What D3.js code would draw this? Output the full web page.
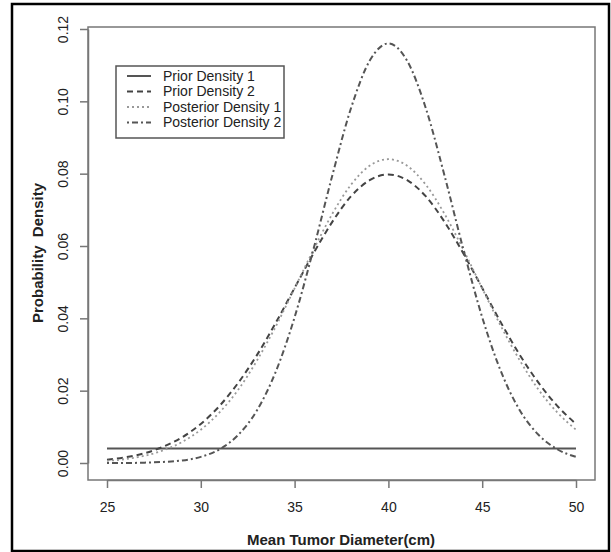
<!DOCTYPE html>
<html>
<head>
<script src="https://cdnjs.cloudflare.com/ajax/libs/d3/7.8.5/d3.min.js"></script>
<style>
  body { margin: 0; background: #fff; }
  text { font-family: "Liberation Sans", Arial, sans-serif; }
</style>
</head>
<body>
<script>
// values
var diameter = [25,26,27,28,29,30,31,32,33,34,35,36,37,38,39,40,41,42,43,44,45,46,47,48,49,50];
var prior1 = [0.004,0.004,0.004,0.004,0.004,0.004,0.004,0.004,0.004,0.004,0.004,0.004,0.004,
              0.004,0.004,0.004,0.004,0.004,0.004,0.004,0.004,0.004,0.004,0.004,0.004,0.004];
var prior2 = [0.0009,0.0016,0.0027,0.0045,0.0071,0.0108,0.0158,0.0222,0.0299,0.0388,0.0484,0.0579,0.0666,
              0.0737,0.0782,0.0798,0.0782,0.0737,0.0666,0.0579,0.0484,0.0388,0.0299,0.0222,0.0158,0.0108];
var post1 = [0.0006,0.0011,0.0020,0.0035,0.0058,0.0092,0.0140,0.0203,0.0284,0.0378,0.0483,0.0589,0.0688,
             0.0769,0.0822,0.0840,0.0822,0.0769,0.0688,0.0589,0.0483,0.0378,0.0284,0.0203,0.0140,0.0092];
var post2 = [0.0000,0.0000,0.0001,0.0003,0.0007,0.0017,0.0038,0.0078,0.0146,0.0253,0.0403,0.0590,0.0793,
             0.0980,0.1112,0.1160,0.1112,0.0980,0.0793,0.0590,0.0403,0.0253,0.0146,0.0078,0.0038,0.0017];
var seriesNames = ["Prior Density 1","Prior Density 2","Posterior Density 1","Posterior Density 2"];
var xTicks = [25,30,35,40,45,50];
var yTicks = [0,0.02,0.04,0.06,0.08,0.10,0.12];

var W = 611, H = 552;
var svg = d3.select("body").append("svg")
    .attr("width", W)
    .attr("height", H);

// outer frame
svg.append("rect")
    .attr("x", 12).attr("y", 4)
    .attr("width", 597).attr("height", 547)
    .style("fill", "none")
    .style("stroke", "#000")
    .style("stroke-width", 2.5);

var x = d3.scaleLinear().domain([25, 50]).range([107, 576]);
var y = d3.scaleLinear().domain([0, 0.12]).range([463, 29]);

// plot box
svg.append("rect")
    .attr("x", 88).attr("y", 27)
    .attr("width", 507).attr("height", 453)
    .style("fill", "none")
    .style("stroke", "#777")
    .style("stroke-width", 1.5);

// axes
var gx = svg.append("g")
    .attr("transform", "translate(0,480)")
    .call(d3.axisBottom(x).tickValues(xTicks).tickSize(8).tickSizeOuter(0).tickPadding(14));
gx.select(".domain").style("stroke", "#777").style("stroke-width", 1.5);
gx.selectAll(".tick line").style("stroke", "#777").style("stroke-width", 1.5);
gx.selectAll(".tick text")
    .style("font-size", "14px")
    .style("fill", "#222");

var gy = svg.append("g")
    .attr("transform", "translate(88,0)")
    .call(d3.axisLeft(y).tickValues(yTicks).tickFormat(d3.format(".2f")).tickSize(8).tickSizeOuter(0));
gy.select(".domain").style("stroke", "#777").style("stroke-width", 1.5);
gy.selectAll(".tick line").style("stroke", "#777").style("stroke-width", 1.5);
gy.selectAll(".tick text")
    .attr("transform", "rotate(-90)")
    .attr("x", 0)
    .attr("y", -25)
    .attr("dy", "0.35em")
    .attr("text-anchor", "middle")
    .style("font-size", "14px")
    .style("fill", "#222");

// axis titles
svg.append("text")
    .attr("x", 341).attr("y", 545)
    .attr("text-anchor", "middle")
    .style("font-size", "15px")
    .style("font-weight", "bold")
    .style("fill", "#222")
    .text("Mean Tumor Diameter(cm)");

svg.append("text")
    .attr("transform", "translate(43,253) rotate(-90)")
    .attr("text-anchor", "middle")
    .style("font-size", "15px")
    .style("font-weight", "bold")
    .style("fill", "#222")
    .style("white-space", "pre")
    .text("Probability  Density");

// curves
var styles = [
    {data: prior1, color: "#555", dash: null, width: 2},
    {data: prior2, color: "#444", dash: "6,4", width: 2},
    {data: post1, color: "#999", dash: "2,3", width: 1.8},
    {data: post2, color: "#555", dash: "2,3,6,3", width: 2}
];

var line = d3.line()
    .x(function(d){ return x(d[0]); })
    .y(function(d){ return y(d[1]); })
    .curve(d3.curveMonotoneX);

styles.forEach(function(s){
    svg.append("path")
        .datum(diameter.map(function(v, i){ return [v, s.data[i]]; }))
        .attr("d", line)
        .style("fill", "none")
        .style("stroke", s.color)
        .style("stroke-width", s.width)
        .style("stroke-dasharray", s.dash);
});

// legend
var legend = svg.append("g");
legend.append("rect")
    .attr("x", 116).attr("y", 66)
    .attr("width", 168).attr("height", 72)
    .style("fill", "#fff")
    .style("stroke", "#555")
    .style("stroke-width", 1.5);

seriesNames.forEach(function(name, i){
    var ly = 76 + i * 15.5;
    legend.append("line")
        .attr("x1", 127).attr("x2", 151)
        .attr("y1", ly).attr("y2", ly)
        .style("stroke", styles[i].color)
        .style("stroke-width", styles[i].width)
        .style("stroke-dasharray", styles[i].dash);
    legend.append("text")
        .attr("x", 163).attr("y", ly)
        .attr("dy", "0.35em")
        .style("font-size", "14px")
        .style("fill", "#222")
        .text(name);
});
</script>
</body>
</html>
